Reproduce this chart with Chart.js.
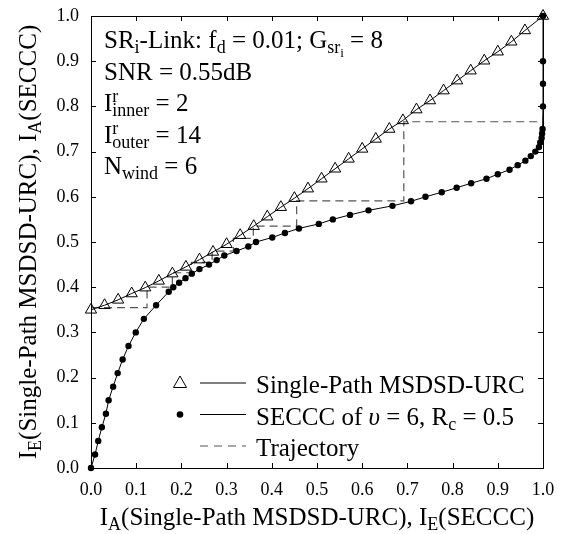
<!DOCTYPE html>
<html>
<head>
<meta charset="utf-8">
<script src="https://cdn.jsdelivr.net/npm/chart.js@4.4.1/dist/chart.umd.min.js"></script>
<style>
  body { margin: 0; background: #fff; }
  #exitChart { display: block; }
</style>
</head>
<body>
<canvas id="exitChart" width="564" height="534"></canvas>
<script>
// Single-Path MSDSD-URC EXIT curve (triangles)
const urcX = [0.00, 0.03, 0.06, 0.09, 0.12, 0.15, 0.18, 0.21, 0.24, 0.27, 0.30, 0.33, 0.36, 0.39, 0.42, 0.45, 0.48,
  0.51, 0.54, 0.57, 0.60, 0.63, 0.66, 0.69, 0.72, 0.75, 0.78, 0.81, 0.84, 0.87, 0.90, 0.93, 0.96, 1.00];
const urcY = [0.350, 0.360, 0.372, 0.386, 0.399, 0.414, 0.430, 0.445, 0.461, 0.478, 0.495, 0.515, 0.535, 0.556, 0.577,
  0.597, 0.618, 0.640, 0.662, 0.684, 0.706, 0.728, 0.750, 0.769, 0.793, 0.813, 0.835, 0.857, 0.879, 0.901, 0.921,
  0.943, 0.968, 1.000];

// SECCC EXIT curve (dots), plotted inverted
const secccX = [0.000, 0.009, 0.016, 0.024, 0.033, 0.039, 0.049, 0.059, 0.070, 0.083, 0.099, 0.117, 0.144, 0.172,
  0.182, 0.195, 0.209, 0.223, 0.240, 0.261, 0.278, 0.295, 0.322, 0.348, 0.365, 0.401, 0.429, 0.460, 0.504, 0.535,
  0.573, 0.614, 0.667, 0.708, 0.740, 0.776, 0.809, 0.841, 0.875, 0.900, 0.926, 0.944, 0.961, 0.973, 0.983, 0.991,
  0.994, 0.997, 0.998, 0.999, 1.000, 1.000, 1.000, 1.000];
const secccY = [0.00, 0.03, 0.06, 0.09, 0.12, 0.15, 0.18, 0.21, 0.24, 0.27, 0.30, 0.33, 0.36, 0.39, 0.40, 0.41, 0.42,
  0.43, 0.44, 0.45, 0.46, 0.47, 0.48, 0.49, 0.50, 0.51, 0.52, 0.53, 0.54, 0.55, 0.56, 0.57, 0.58, 0.59, 0.60, 0.61,
  0.62, 0.63, 0.64, 0.65, 0.66, 0.67, 0.68, 0.69, 0.70, 0.71, 0.72, 0.73, 0.74, 0.75, 0.80, 0.85, 0.90, 1.00];

// decoding trajectory (staircase corners)
const trajX = [0.000, 0.124, 0.124, 0.180, 0.180, 0.222, 0.222, 0.268, 0.268, 0.315, 0.315, 0.359, 0.359, 0.455,
  0.455, 0.692, 0.692, 1.000];
const trajY = [0.355, 0.355, 0.400, 0.400, 0.432, 0.432, 0.455, 0.455, 0.480, 0.480, 0.508, 0.508, 0.535, 0.535,
  0.591, 0.591, 0.766, 0.766];

const tickValues = [0.0, 0.1, 0.2, 0.3, 0.4, 0.5, 0.6, 0.7, 0.8, 0.9, 1.0];

const FONT = '"Liberation Serif", "Times New Roman", serif';
const TXT = 25;
const toPoints = (xs, ys) => xs.map((x, i) => ({ x: x, y: ys[i] }));

// rich text: parts are [text, kind], kind '' | 'sub' | 'sub2' | 'sup' (sup does not advance) | 'it'
function partFont(kind, size) {
  if (kind === 'sub' || kind === 'sup') return (size * 0.72) + 'px ' + FONT;
  if (kind === 'sub2') return (size * 0.52) + 'px ' + FONT;
  if (kind === 'it') return 'italic ' + size + 'px ' + FONT;
  return size + 'px ' + FONT;
}
function partShift(kind, size) {
  if (kind === 'sub') return size * 0.2;
  if (kind === 'sub2') return size * 0.36;
  if (kind === 'sup') return -size * 0.36;
  return 0;
}
function richWidth(ctx, parts, size) {
  let w = 0;
  parts.forEach(([t, k]) => {
    ctx.font = partFont(k, size);
    if (k !== 'sup') w += ctx.measureText(t).width;
  });
  return w;
}
function drawRich(ctx, parts, x, y, size, align) {
  let cx = align === 'center' ? x - richWidth(ctx, parts, size) / 2 : x;
  ctx.textAlign = 'left';
  ctx.textBaseline = 'alphabetic';
  parts.forEach(([t, k]) => {
    ctx.font = partFont(k, size);
    ctx.fillText(t, cx, y + partShift(k, size));
    if (k !== 'sup') cx += ctx.measureText(t).width;
  });
}

const infoLines = [
  [['SR', ''], ['i', 'sub'], ['-Link: f', ''], ['d', 'sub'], [' = 0.01; G', ''], ['sr', 'sub'], ['i', 'sub2'], [' = 8', '']],
  [['SNR = 0.55dB', '']],
  [['I', ''], ['r', 'sup'], ['inner', 'sub'], [' = 2', '']],
  [['I', ''], ['r', 'sup'], ['outer', 'sub'], [' = 14', '']],
  [['N', ''], ['wind', 'sub'], [' = 6', '']]
];
const xTitle = [['I', ''], ['A', 'sub'], ['(Single-Path MSDSD-URC), I', ''], ['E', 'sub'], ['(SECCC)', '']];
const yTitle = [['I', ''], ['E', 'sub'], ['(Single-Path MSDSD-URC), I', ''], ['A', 'sub'], ['(SECCC)', '']];
const legendRows = [
  { label: [['Single-Path MSDSD-URC', '']], mark: 'triangle', dash: [] },
  { label: [['SECCC of ', ''], ['\u03C5', 'it'], [' = 6, R', ''], ['c', 'sub'], [' = 0.5', '']], mark: 'dot', dash: [] },
  { label: [['Trajectory', '']], mark: null, dash: [8, 6] }
];

const decorPlugin = {
  id: 'decor',
  afterDraw(chart) {
    const ctx = chart.ctx;
    const a = chart.chartArea;
    const xs = chart.scales.x, ys = chart.scales.y;
    ctx.save();
    ctx.strokeStyle = '#000';
    ctx.fillStyle = '#000';
    ctx.lineWidth = 1;
    ctx.strokeRect(a.left + 0.5, a.top + 0.5, a.right - a.left, a.bottom - a.top);
    // inward ticks on all four sides
    ctx.beginPath();
    tickValues.forEach(v => {
      const px = Math.round(xs.getPixelForValue(v)) + 0.5;
      const py = Math.round(ys.getPixelForValue(v)) + 0.5;
      ctx.moveTo(px, a.bottom); ctx.lineTo(px, a.bottom - 5);
      ctx.moveTo(px, a.top); ctx.lineTo(px, a.top + 5);
      ctx.moveTo(a.left, py); ctx.lineTo(a.left + 5, py);
      ctx.moveTo(a.right, py); ctx.lineTo(a.right - 5, py);
    });
    ctx.stroke();

    // parameter text block
    infoLines.forEach((ln, i) => drawRich(ctx, ln, a.left + 13, 48 + i * 31.5, TXT));

    // legend
    legendRows.forEach((r, i) => {
      const cy = 383 + i * 31.5;
      ctx.strokeStyle = i === 2 ? '#555' : '#000';
      ctx.lineWidth = 1;
      ctx.setLineDash(r.dash);
      ctx.beginPath();
      ctx.moveTo(200, cy); ctx.lineTo(246, cy);
      ctx.stroke();
      ctx.setLineDash([]);
      ctx.strokeStyle = '#000';
      if (r.mark === 'triangle') {
        ctx.beginPath();
        ctx.moveTo(180, cy - 7); ctx.lineTo(186.5, cy + 4.5); ctx.lineTo(173.5, cy + 4.5);
        ctx.closePath(); ctx.stroke();
      } else if (r.mark === 'dot') {
        ctx.beginPath(); ctx.arc(180, cy, 3.3, 0, Math.PI * 2); ctx.fill();
      }
      ctx.fillStyle = '#000';
      drawRich(ctx, r.label, 256, cy + 10, TXT);
    });

    // axis titles
    drawRich(ctx, xTitle, (a.left + a.right) / 2, 525, TXT, 'center');
    ctx.translate(36, (a.top + a.bottom) / 2);
    ctx.rotate(-Math.PI / 2);
    drawRich(ctx, yTitle, 0, 0, TXT, 'center');
    ctx.restore();
  }
};

const axisOpts = (pad) => ({
  type: 'linear',
  min: 0,
  max: 1,
  grid: { display: false },
  border: { display: false },
  ticks: {
    stepSize: 0.1,
    padding: pad,
    color: '#000',
    font: { family: FONT, size: 18 },
    callback: v => Number(v).toFixed(1)
  }
});

const xAxis = axisOpts(3);
xAxis.afterFit = s => { s.height = 66; };
const yAxis = axisOpts(4);
yAxis.afterFit = s => { s.width = 91; };

new Chart(document.getElementById('exitChart').getContext('2d'), {
  type: 'scatter',
  data: {
    datasets: [
      {
        label: 'Single-Path MSDSD-URC',
        data: toPoints(urcX, urcY),
        showLine: true,
        borderColor: '#000',
        borderWidth: 1,
        pointStyle: 'triangle',
        pointRadius: 6.5,
        pointBackgroundColor: 'rgba(0,0,0,0)',
        pointBorderColor: '#000',
        pointBorderWidth: 1,
        clip: false
      },
      {
        label: 'SECCC of \u03C5 = 6, Rc = 0.5',
        data: toPoints(secccX, secccY),
        showLine: true,
        borderColor: '#000',
        borderWidth: 1,
        pointStyle: 'circle',
        pointRadius: 3.2,
        pointBackgroundColor: '#000',
        pointBorderWidth: 0,
        clip: false
      },
      {
        label: 'Trajectory',
        data: toPoints(trajX, trajY),
        showLine: true,
        borderColor: '#555',
        borderWidth: 1.2,
        borderDash: [8, 5],
        pointRadius: 0,
        clip: false
      }
    ]
  },
  options: {
    responsive: false,
    devicePixelRatio: 1,
    animation: false,
    layout: { padding: { top: 16, right: 21, left: 0, bottom: 0 } },
    plugins: {
      legend: { display: false },
      tooltip: { enabled: false }
    },
    scales: { x: xAxis, y: yAxis }
  },
  plugins: [decorPlugin]
});
</script>
</body>
</html>
